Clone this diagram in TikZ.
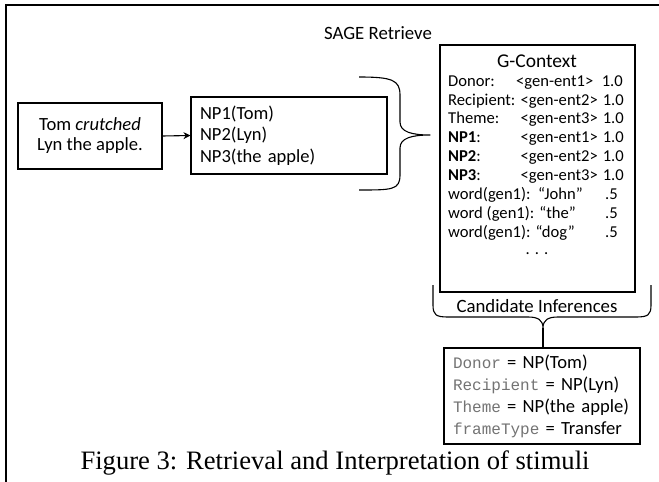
\documentclass[tikz,border=0pt]{standalone}
\usepackage{fontspec}
\setmainfont{Carlito}
\newfontfamily\capfont{Liberation Serif}
\newfontfamily\codefont{Liberation Mono}
\usetikzlibrary{arrows.meta}
\definecolor{codegray}{RGB}{115,115,115}
\newcommand{\slotname}[1]{{\codefont\fontsize{16}{22}\selectfont\color{codegray}#1}}
\tikzset{
  panel/.style={draw, line width=1.1pt, inner sep=0pt},
  rowtext/.style={inner sep=0pt, font=\fontsize{16.6}{19}\selectfont},
  bracepath/.style={line width=1.1pt, line join=round},
}
\begin{document}
\begin{tikzpicture}[x=1pt,y=1pt,yscale=-1,xscale=1]
\useasboundingbox (0,0) rectangle (659,482);

%Straight Lines (frame)
\draw [line width=1.2pt] (659,5) -- (6,5) -- (6,482);

% Text Node
\node (title) at (378,33) [inner sep=0pt, font=\fontsize{18.8}{22}\selectfont] {SAGE Retrieve};

% Sentence box
\node (sentence) at (90,136) [panel, minimum width=144, minimum height=66, align=center,
  font=\fontsize{18.6}{20}\selectfont] {Tom \textit{crutched}\\Lyn the apple.};
% NP box
\node (nps) at (289,135.5) [panel, minimum height=77, text width=178, inner xsep=9, align=left,
  font=\fontsize{18.5}{21.5}\selectfont] {NP1(Tom)\\NP2(Lyn)\\NP3(the apple)};
% Connection
\draw [line width=1.1pt, -{Stealth[length=7pt,width=7pt]}] (sentence.east) -- (nps.west);

% Brace (right of NP box)
\coordinate (btip) at (430,135);
\draw [bracepath] (359,77) .. controls (392,77) and (400,80) .. (400,95) -- (400,122)
  .. controls (400,132) and (412,135) .. (btip)
  .. controls (412,135) and (400,138) .. (400,148) -- (400,175)
  .. controls (400,190) and (392,190) .. (359,190);

% G-Context box
\node (gctx) at (537.5,168.5) [panel, minimum width=195, minimum height=247] {};
\node (gtitle) at (537,61) [inner sep=0pt, font=\fontsize{19.5}{22}\selectfont] {G-Context};
% rows
\foreach \lab/\ent/\yy [count=\i] in {Donor:/{<gen-ent2>}/100, Theme:/{<gen-ent3>}/118,
    \textbf{NP1}:/{<gen-ent1>}/137, \textbf{NP2}:/{<gen-ent2>}/156, \textbf{NP3}:/{<gen-ent3>}/175}{
  \node (lab\i) at (448,\yy+5.5) [rowtext, anchor=base west] {\ifnum\i=1 Recipient:\else\lab\fi};
  \node (ent\i) at (598,\yy+5.5) [rowtext, anchor=base east] {\ent};
  \node (val\i) at (624,\yy+5.5) [rowtext, anchor=base east] {1.0};
}
\node (lab0) at (448,86.5) [rowtext, anchor=base west] {Donor:};
\node (ent0) at (516,86.5) [rowtext, anchor=base west] {<gen-ent1>};
\node (val0) at (623,86.5) [rowtext, anchor=base east] {1.0};
\foreach \lab/\yy [count=\i] in {{word(gen1):\ \ “John”}/194, {word (gen1): “the”}/213, {word(gen1): “dog”}/232}{
  \node (word\i) at (448,\yy+5.5) [rowtext, anchor=base west] {\lab};
  \node (wval\i) at (618,\yy+5.5) [rowtext, anchor=base east] {.5};
}
\node (dots) at (537,254) [rowtext] {. . .};

% Brace (under G-Context)
\coordinate (ctip) at (543,328);
\draw [bracepath] (433,285) -- (433,305) .. controls (433,315) and (436,317) .. (448,317) -- (528,317)
  .. controls (538,317) and (543,320) .. (ctip)
  .. controls (543,320) and (548,317) .. (558,317) -- (636,317)
  .. controls (648,317) and (651,315) .. (651,305) -- (651,285);
\node (cand) at (537,306) [inner sep=0pt, font=\fontsize{18.8}{22}\selectfont] {Candidate Inferences};

% Result box
\node (result) at (542,396) [panel, minimum height=96, text width=178, inner xsep=9, align=left,
  font=\fontsize{18.6}{22}\selectfont]
  {\slotname{Donor} = NP(Tom)\\\slotname{Recipient} = NP(Lyn)\\\slotname{Theme} = NP(the apple)\\\slotname{frameType} = Transfer};
% Connection
\draw [line width=1.1pt] (ctip) -- (result.north -| ctip);

% Caption
\node (caption) at (335,463) [inner sep=0pt, font=\capfont\fontsize{26.6}{30}\selectfont]
  {Figure 3: Retrieval and Interpretation of stimuli};

\end{tikzpicture}
\end{document}
